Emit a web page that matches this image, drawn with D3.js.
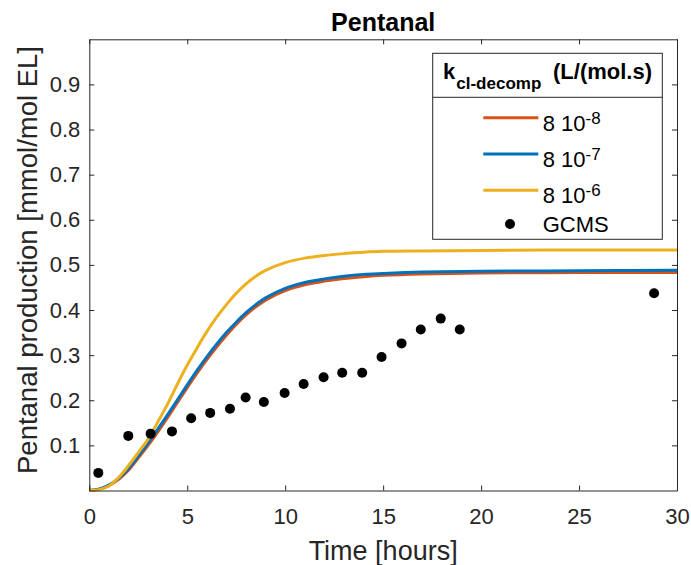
<!DOCTYPE html>
<html>
<head>
<meta charset="utf-8">
<script src="https://cdn.jsdelivr.net/npm/d3@7/dist/d3.min.js"></script>
<style>
  html, body { margin: 0; padding: 0; background: #fff; }
  svg { display: block; font-family: "Liberation Sans", Arial, Helvetica, sans-serif; }
</style>
</head>
<body>
<svg id="chart" width="691" height="565"></svg>
<script>
// Model time grid (hours) for the simulated curves
const modelTime = [0, 0.5, 1, 1.5, 2, 2.5, 3, 3.5, 4, 4.5, 5, 5.5, 6, 6.5, 7, 7.5, 8, 8.5, 9, 10, 11, 12, 13, 14, 15, 17, 20, 25, 30];

// Simulated pentanal production for each k_cl-decomp value
const model8e8 = [0, 0.003, 0.011, 0.025, 0.045, 0.072, 0.100, 0.130, 0.162, 0.195, 0.228, 0.260, 0.290, 0.318, 0.344, 0.368, 0.389, 0.407, 0.422, 0.443, 0.456, 0.464, 0.470, 0.474, 0.477, 0.480, 0.482, 0.483, 0.483];
const model8e7 = [0, 0.003, 0.012, 0.027, 0.048, 0.076, 0.105, 0.136, 0.168, 0.201, 0.234, 0.266, 0.296, 0.324, 0.350, 0.373, 0.394, 0.412, 0.427, 0.448, 0.461, 0.469, 0.475, 0.479, 0.481, 0.484, 0.486, 0.487, 0.488];
const model8e6 = [0, 0.002, 0.010, 0.029, 0.055, 0.084, 0.114, 0.152, 0.192, 0.236, 0.278, 0.316, 0.352, 0.384, 0.412, 0.437, 0.458, 0.475, 0.488, 0.505, 0.515, 0.521, 0.525, 0.528, 0.530, 0.531, 0.532, 0.533, 0.533];

// GCMS measurements
const gcmsTime = [0.46, 1.99, 3.13, 4.22, 5.2, 6.17, 7.18, 7.98, 8.91, 9.97, 10.94, 11.96, 12.91, 13.93, 14.92, 15.94, 16.92, 17.94, 18.91, 28.83];
const gcmsValue = [0.039, 0.121, 0.126, 0.131, 0.160, 0.172, 0.181, 0.206, 0.196, 0.216, 0.236, 0.251, 0.261, 0.261, 0.296, 0.326, 0.357, 0.381, 0.357, 0.437];

// Legend entries
const seriesLabels = ["8 10", "8 10", "8 10"];
const seriesExponents = ["-8", "-7", "-6"];
const seriesColors = ["#D95319", "#0072BD", "#EDB120"];
const seriesData = [model8e8, model8e7, model8e6];

// Axis ticks
const xTicks = [0, 5, 10, 15, 20, 25, 30];
const yTicks = [0.1, 0.2, 0.3, 0.4, 0.5, 0.6, 0.7, 0.8, 0.9];

const svg = d3.select("#chart");
const pLeft = 89.3, pRight = 677, pTop = 39.3, pBottom = 490.5;
const axisColor = "#262626";

const x = d3.scaleLinear().domain([0, 30]).range([pLeft, pRight]);
const y = d3.scaleLinear().domain([0, 1]).range([pBottom, pTop]);

// Curves
svg.append("clipPath").attr("id", "plotclip")
  .append("rect").attr("x", pLeft - 2).attr("y", pTop).attr("width", pRight - pLeft + 2).attr("height", pBottom - pTop + 2);

const line = d3.line().curve(d3.curveCatmullRom.alpha(0.5));
const curves = svg.append("g").attr("clip-path", "url(#plotclip)");
seriesData.forEach((vals, i) => {
  curves.append("path")
    .attr("d", line(modelTime.map((t, j) => [x(t), y(vals[j])])))
    .attr("fill", "none")
    .attr("stroke", seriesColors[i])
    .attr("stroke-width", 3)
    .attr("stroke-linejoin", "round");
});

// GCMS points
svg.append("g").selectAll("circle")
  .data(gcmsTime.map((t, i) => [t, gcmsValue[i]]))
  .join("circle")
  .attr("cx", d => x(d[0]))
  .attr("cy", d => y(d[1]))
  .attr("r", 5)
  .attr("fill", "#000");

// Axes (ticks point inward, box on all sides)
function styleAxis(g) {
  g.selectAll(".domain").attr("stroke", axisColor);
  g.selectAll(".tick line").attr("stroke", axisColor);
  g.selectAll(".tick text").attr("fill", "#262626").attr("font-size", 22)
    .attr("font-family", "'Liberation Sans', Arial, Helvetica, sans-serif");
}

svg.append("g").attr("transform", `translate(0,${pBottom})`)
  .call(d3.axisBottom(x).tickValues(xTicks).tickSize(-5).tickSizeOuter(0).tickPadding(18).tickFormat(d3.format("d")))
  .call(styleAxis);
svg.append("g").attr("transform", `translate(0,${pTop})`)
  .call(d3.axisTop(x).tickValues(xTicks).tickSize(-5).tickSizeOuter(0).tickFormat(""))
  .call(styleAxis);
svg.append("g").attr("transform", `translate(${pLeft},0)`)
  .call(d3.axisLeft(y).tickValues(yTicks).tickSize(-5).tickSizeOuter(0).tickPadding(9).tickFormat(d3.format(".1f")))
  .call(styleAxis);
svg.append("g").attr("transform", `translate(${pRight},0)`)
  .call(d3.axisRight(y).tickValues(yTicks).tickSize(-5).tickSizeOuter(0).tickFormat(""))
  .call(styleAxis);

// Title and axis labels
svg.append("text").attr("x", (pLeft + pRight) / 2).attr("y", 30.5)
  .attr("text-anchor", "middle").attr("font-size", 25).attr("font-weight", "bold")
  .attr("fill", "#000").text("Pentanal");
svg.append("text").attr("x", (pLeft + pRight) / 2).attr("y", 560)
  .attr("text-anchor", "middle").attr("font-size", 27).attr("fill", "#262626")
  .text("Time [hours]");
svg.append("text")
  .attr("transform", `translate(37,260) rotate(-90)`)
  .attr("text-anchor", "middle").attr("font-size", 27.5).attr("fill", "#262626")
  .text("Pentanal production [mmol/mol EL]");

// Legend
const lg = svg.append("g");
const lx0 = 432.7, lx1 = 662.3, ly0 = 53.3, ly1 = 239.3, lsep = 97.3;
lg.append("rect").attr("x", lx0).attr("y", ly0).attr("width", lx1 - lx0).attr("height", ly1 - ly0)
  .attr("fill", "#fff").attr("stroke", axisColor).attr("stroke-width", 1);
lg.append("line").attr("x1", lx0).attr("x2", lx1).attr("y1", lsep).attr("y2", lsep)
  .attr("stroke", axisColor).attr("stroke-width", 1);

const head = lg.append("text").attr("x", 443).attr("y", 78.5)
  .attr("font-weight", "bold").attr("fill", "#000").attr("font-size", 22);
head.append("tspan").text("k");
head.append("tspan").attr("font-size", 17).attr("dy", 10).attr("dx", 1).text("cl-decomp");
head.append("tspan").attr("x", 553).attr("dy", -10).text("(L/(mol.s)");

const rowY = [117.7, 154, 190.3];
seriesLabels.forEach((lab, i) => {
  lg.append("line").attr("x1", 483.3).attr("x2", 538.3).attr("y1", rowY[i]).attr("y2", rowY[i])
    .attr("stroke", seriesColors[i]).attr("stroke-width", 3);
  const t = lg.append("text").attr("x", 542.7).attr("y", rowY[i] + 13)
    .attr("font-size", 22).attr("fill", "#000");
  t.append("tspan").text(lab);
  t.append("tspan").attr("font-size", 17).attr("dy", -7).text(seriesExponents[i]);
});
lg.append("circle").attr("cx", 510).attr("cy", 224).attr("r", 5).attr("fill", "#000");
lg.append("text").attr("x", 542.7).attr("y", 231.5).attr("font-size", 22).attr("fill", "#000").text("GCMS");
</script>
</body>
</html>
